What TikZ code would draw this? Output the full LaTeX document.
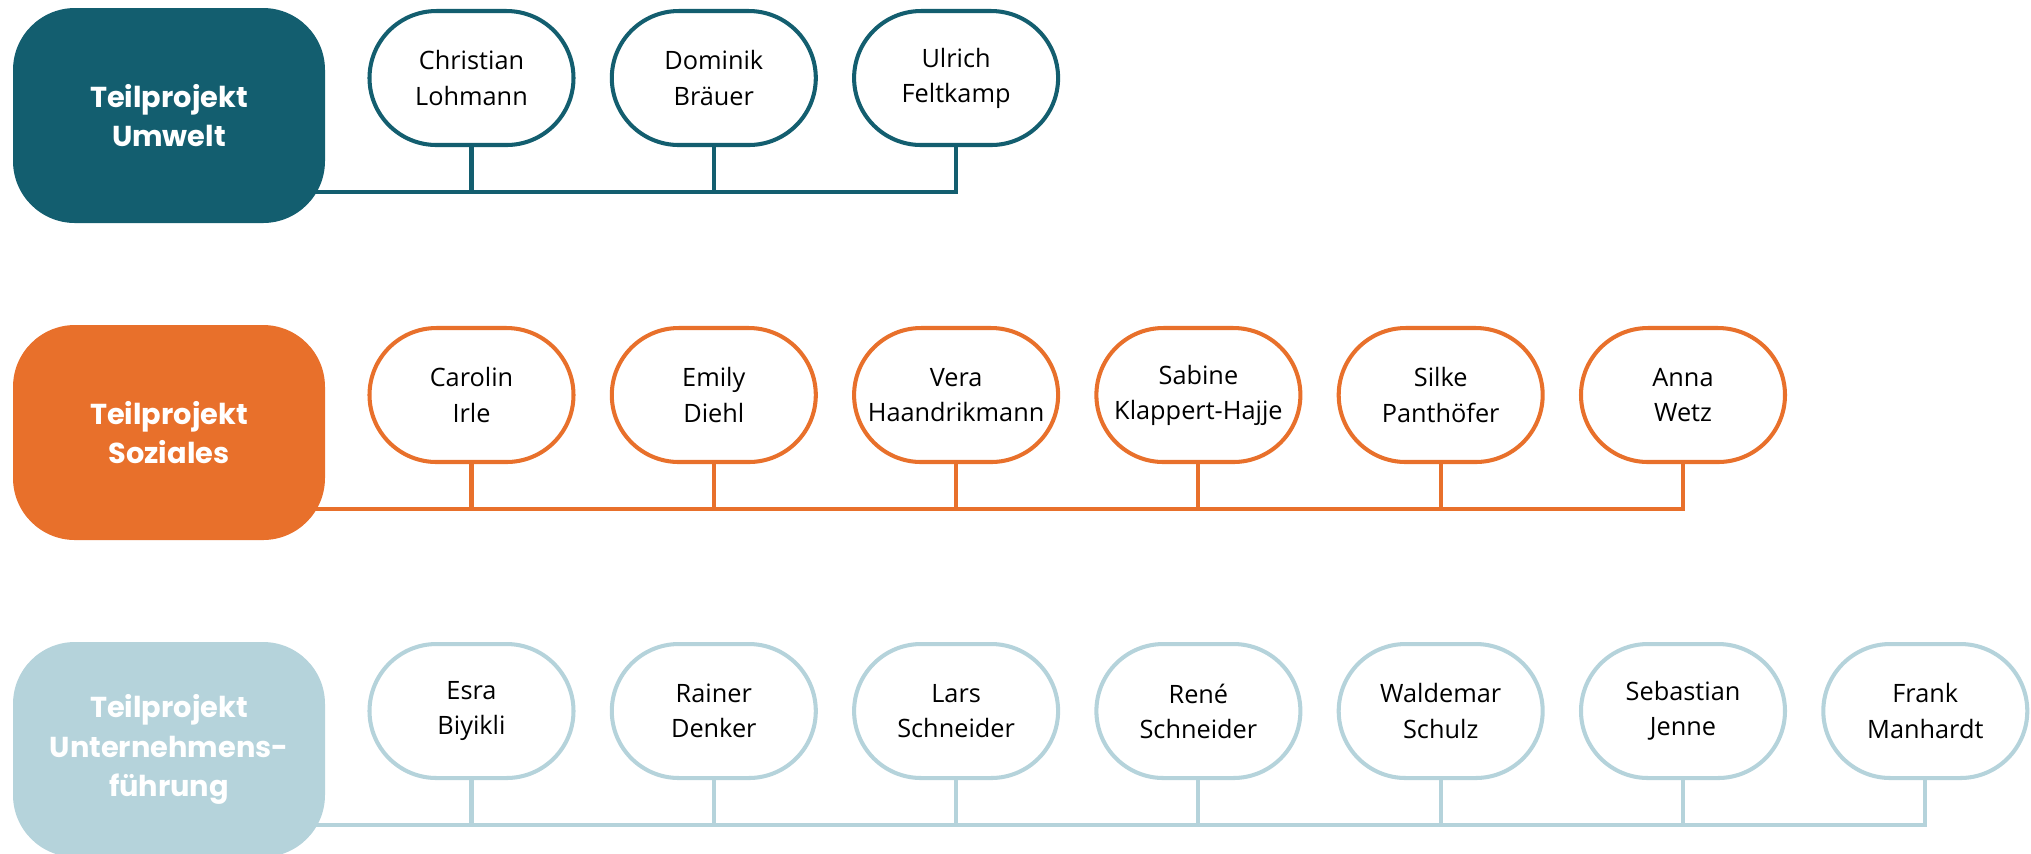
\documentclass[tikz,border=0pt]{standalone}
\usepackage{fontspec}
\setmainfont{Open Sans}
\newfontfamily\headfont{Poppins}
\usetikzlibrary{backgrounds}
\definecolor{umwelt}{HTML}{135E6F}
\definecolor{soziales}{HTML}{E8702B}
\definecolor{fuehrung}{HTML}{B5D3DB}

\begin{document}
\begin{tikzpicture}[
  team/.style={rectangle,rounded corners=6.2mm,fill=#1,text=white,
    minimum width=31.2mm,minimum height=21.5mm,align=center,
    font=\headfont\bfseries\fontsize{8.2}{11.3}\selectfont},
  member/.style={rectangle,rounded corners=6.7mm,draw=#1,fill=white,
    line width=1.15pt,minimum width=20.4mm,minimum height=13.4mm,
    align=center,font=\fontsize{7.2}{10}\selectfont},
  bus/.style={draw=#1,line width=1.15pt}]
  \useasboundingbox (0,0) rectangle (20.31,-8.53);

  % Teilprojekt Umwelt
  \node[team=umwelt] (tu) at (1.69,-1.155) {Teilprojekt\\Umwelt};
  \foreach \who [count=\i] in {{Christian\\Lohmann},{Dominik\\Bräuer},
      {Ulrich\\Feltkamp}}
    \node[member=umwelt] (u\i) at ({4.715+2.423*(\i-1)},-0.78) {\who};
  \coordinate (ubus) at (0,-1.92);

  % Teilprojekt Soziales
  \node[team=soziales] (ts) at (1.69,-4.325) {Teilprojekt\\Soziales};
  \foreach \who [count=\i] in {{Carolin\\Irle},{Emily\\Diehl},
      {Vera\\Haandrikmann},{Sabine\\Klappert-Hajje},{Silke\\Panthöfer},
      {Anna\\Wetz}}
    \node[member=soziales] (s\i) at ({4.715+2.423*(\i-1)},-3.95) {\who};
  \coordinate (sbus) at (0,-5.09);

  % Teilprojekt Unternehmensfuehrung
  \node[team=fuehrung] (tf) at (1.69,-7.495)
    {Teilprojekt\\Unternehmens-\\führung};
  \foreach \who [count=\i] in {{Esra\\Biyikli},{Rainer\\Denker},
      {Lars\\Schneider},{René\\Schneider},{Waldemar\\Schulz},
      {Sebastian\\Jenne},{Frank\\Manhardt}}
    \node[member=fuehrung] (f\i) at ({4.715+2.423*(\i-1)},-7.11) {\who};
  \coordinate (fbus) at (0,-8.25);

  \begin{scope}[on background layer]
    \draw[bus=umwelt] (tu.center |- ubus) -| (u3.south);
    \foreach \i in {1,2}
      \draw[bus=umwelt] (u\i.south) -- (u\i.south |- ubus);
    \draw[bus=soziales] (ts.center |- sbus) -| (s6.south);
    \foreach \i in {1,...,5}
      \draw[bus=soziales] (s\i.south) -- (s\i.south |- sbus);
    \draw[bus=fuehrung] (tf.center |- fbus) -| (f7.south);
    \foreach \i in {1,...,6}
      \draw[bus=fuehrung] (f\i.south) -- (f\i.south |- fbus);
  \end{scope}
\end{tikzpicture}
\end{document}
